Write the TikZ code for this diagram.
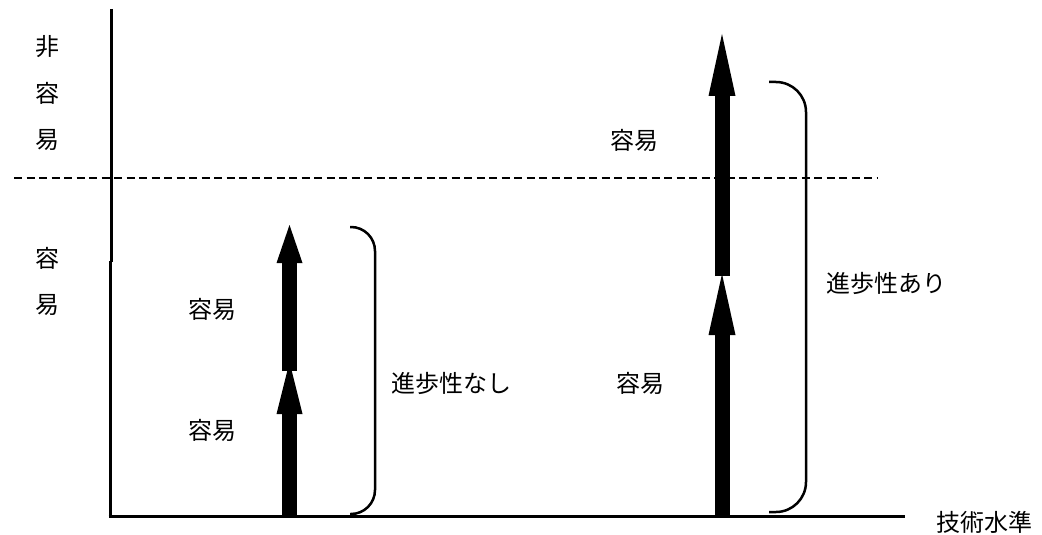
\documentclass[tikz,border=0pt]{standalone}
\usepackage{fontspec}
\newfontfamily\jpfont{Noto Sans CJK JP}
\begin{document}
\begin{tikzpicture}[x=1pt,y=-1pt,
  lbl/.style={font=\jpfont\fontsize{24}{28}\selectfont, inner sep=0pt},
  axisline/.style={line width=3pt},
  shaft/.style={line width=15pt},
  head/.style={fill=black},
  bracket/.style={line width=2.5pt},
  guide/.style={line width=2pt, dash pattern=on 8pt off 4.5pt}]
\useasboundingbox (0,0) rectangle (1042,535);
% axes
\coordinate (vt) at (111.5,9);
\coordinate (vm1) at (111.5,262);
\coordinate (vm2) at (110,260.5);
\coordinate (o) at (110,516);
\coordinate (hx) at (905,516);
\draw[axisline] (vt) -- (vm1);
\draw[axisline] (vm2) -- (110,517.5);
\draw[axisline] (108.5,516) -- (hx);
% dashed level line
\coordinate (d1) at (14,178);
\coordinate (d2) at (878,178);
\draw[guide] (d1) -- (d2);
% left arrows
\coordinate (l0) at (289.5,516);
\coordinate (l1) at (289.5,413);
\coordinate (l2) at (289.5,371);
\coordinate (l3) at (289.5,262);
\draw[shaft] (l0) -- (l1);
\fill[head] (276.5,414) -- (302.5,414) -- (289.5,362) -- cycle;
\draw[shaft] (l2) -- (l3);
\fill[head] (276.5,263) -- (302.5,263) -- (289.5,225) -- cycle;
% right arrows
\coordinate (r0) at (722,516);
\coordinate (r1) at (722,334);
\coordinate (r2) at (722,276);
\coordinate (r3) at (722,95);
\draw[shaft] (r0) -- (r1);
\fill[head] (708.5,335) -- (735.5,335) -- (722,274) -- cycle;
\draw[shaft] (r2) -- (r3);
\fill[head] (708.5,96) -- (735.5,96) -- (722,34) -- cycle;
% brackets
\draw[bracket, rounded corners=24pt] (350,227) -- (375,227) -- (375,514) -- (350,514);
\draw[bracket, rounded corners=30pt] (769,82) -- (806,82) -- (806,512) -- (769,512);
% labels
\node[lbl] (n1) at (47,47) {非};
\node[lbl] (n2) at (47,93) {容};
\node[lbl] (n3) at (47,140) {易};
\node[lbl] (e1) at (47,258) {容};
\node[lbl] (e2) at (47,305) {易};
\node[lbl] (ur) at (634,140) {容易};
\node[lbl] (ul) at (212,309) {容易};
\node[lbl] (ll) at (212,430) {容易};
\node[lbl] (lr) at (640,383) {容易};
\node[lbl] (nashi) at (451,383) {進歩性なし};
\node[lbl] (ari) at (886,283) {進歩性あり};
\node[lbl] (gijutsu) at (984,522) {技術水準};
\end{tikzpicture}
\end{document}
